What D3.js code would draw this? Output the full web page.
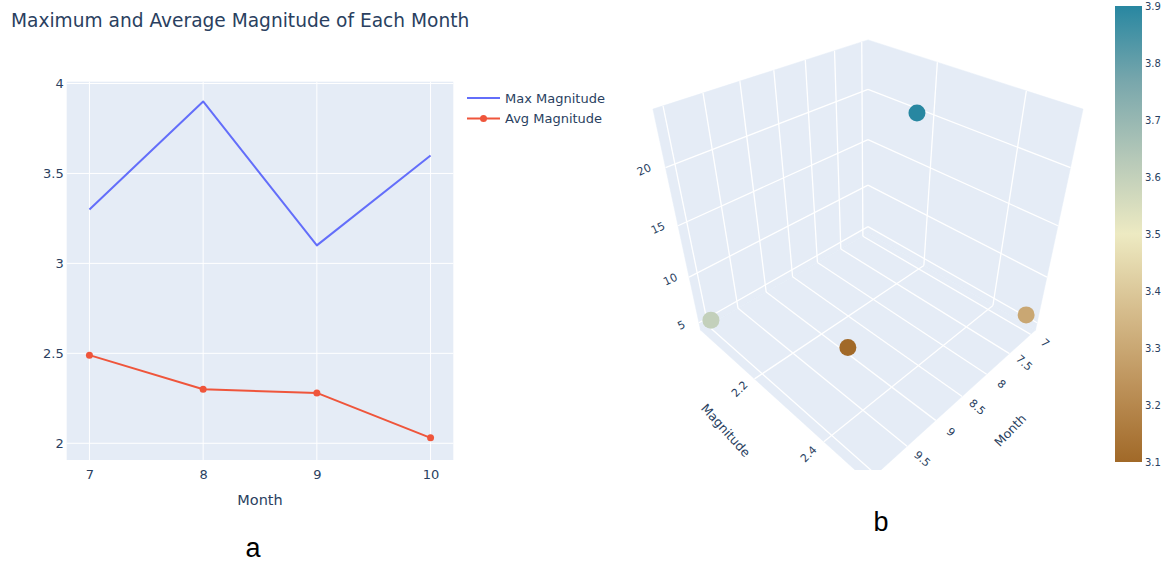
<!DOCTYPE html>
<html>
<head>
<meta charset="utf-8">
<script src="https://cdn.jsdelivr.net/npm/d3@7"></script>
<style>
  body { margin: 0; background: #fff; }
  svg { display: block; }
  .pl text { font-family: "DejaVu Sans", Verdana, sans-serif; fill: #2a3f5f; }
  .panel-tag { font-family: "Liberation Sans", Arial, sans-serif; fill: #000; }
</style>
</head>
<body>
<svg id="chart" width="1168" height="564"></svg>
<script>
// ---- data ----
const months = [7, 8, 9, 10];
const maxMagnitude = [3.3, 3.9, 3.1, 3.6];
const avgMagnitude = [2.49, 2.30, 2.28, 2.03];
const depthValues = [5.9, 23.7, 4.9, 5.3];

const lineXTicks = [7, 8, 9, 10];
const lineYTicks = [2, 2.5, 3, 3.5, 4];
const monthTicks3d = [7, 7.5, 8, 8.5, 9, 9.5, 10];
const magTicks3d = [2.2, 2.4];
const depthTicks3d = [5, 10, 15, 20];
const colorTicks = [3.1, 3.2, 3.3, 3.4, 3.5, 3.6, 3.7, 3.8, 3.9];
const earthColors = ["#a16928", "#bd925a", "#d6bd8d", "#edeac2", "#b5c8b8", "#79a7ac", "#2887a1"];

const svg = d3.select("#chart");
const root = svg.append("g").attr("class", "pl");

// ================= left panel: 2D line chart =================
const plot = { left: 66.7, right: 453.3, top: 81.7, bottom: 460 };
const x = d3.scaleLinear().domain([6.8, 10.2]).range([plot.left, plot.right]);
const y = d3.scaleLinear().domain([1.907, 4.01]).range([plot.bottom, plot.top]);

root.append("text")
  .attr("x", 11).attr("y", 27)
  .style("font-size", "18.6px")
  .text("Maximum and Average Magnitude of Each Month");

root.append("rect")
  .attr("x", plot.left).attr("y", plot.top)
  .attr("width", plot.right - plot.left).attr("height", plot.bottom - plot.top)
  .attr("fill", "#e5ecf6");

const grid = root.append("g").attr("stroke", "#fff").attr("stroke-width", 1);
grid.selectAll("line.gx").data(lineXTicks).join("line")
  .attr("x1", d => x(d)).attr("x2", d => x(d))
  .attr("y1", plot.top).attr("y2", plot.bottom);
grid.selectAll("line.gy").data(lineYTicks).join("line")
  .attr("y1", d => y(d)).attr("y2", d => y(d))
  .attr("x1", plot.left).attr("x2", plot.right);

const xAxis = d3.axisBottom(x).tickValues(lineXTicks).tickSize(0).tickPadding(10).tickFormat(d3.format("d"));
const yAxis = d3.axisLeft(y).tickValues(lineYTicks).tickSize(0).tickPadding(3).tickFormat(d => String(d));
const gx = root.append("g").attr("transform", `translate(0,${plot.bottom})`).call(xAxis);
const gy = root.append("g").attr("transform", `translate(${plot.left},0)`).call(yAxis);
[gx, gy].forEach(g => {
  g.select(".domain").remove();
  g.selectAll("text").style("font-size", "13px").attr("fill", "#2a3f5f").style("font-family", "DejaVu Sans");
});

root.append("text")
  .attr("x", (plot.left + plot.right) / 2).attr("y", 505)
  .attr("text-anchor", "middle")
  .style("font-size", "14.5px")
  .text("Month");

const seriesLine = d3.line().x((d, i) => x(months[i])).y(d => y(d));
root.append("path").datum(maxMagnitude)
  .attr("d", seriesLine).attr("fill", "none")
  .attr("stroke", "#636efa").attr("stroke-width", 2).attr("stroke-linejoin", "round");
root.append("path").datum(avgMagnitude)
  .attr("d", seriesLine).attr("fill", "none")
  .attr("stroke", "#ef553b").attr("stroke-width", 2).attr("stroke-linejoin", "round");
root.selectAll("circle.avg").data(avgMagnitude).join("circle")
  .attr("cx", (d, i) => x(months[i])).attr("cy", d => y(d)).attr("r", 3.5)
  .attr("fill", "#ef553b");

// legend
const legend = root.append("g").attr("transform", "translate(467,98)");
const legendItems = [
  { name: "Max Magnitude", color: "#636efa", marker: false },
  { name: "Avg Magnitude", color: "#ef553b", marker: true }
];
legendItems.forEach((it, i) => {
  const g = legend.append("g").attr("transform", `translate(0,${i * 20.5})`);
  g.append("line").attr("x1", 0).attr("x2", 33).attr("stroke", it.color).attr("stroke-width", 2);
  if (it.marker) g.append("circle").attr("cx", 16.5).attr("r", 3.5).attr("fill", it.color);
  g.append("text").attr("x", 38).attr("dy", "0.35em").style("font-size", "13px").text(it.name);
});

// ================= right panel: 3D scatter =================
function padded(vals) {
  const [lo, hi] = d3.extent(vals);
  const p = (hi - lo) * 0.04;
  return [lo - p, hi + p];
}
const sx3 = d3.scaleLinear().domain(padded(months)).range([-1, 1]);
const sy3 = d3.scaleLinear().domain(padded(avgMagnitude)).range([-1, 1]);
const sz3 = d3.scaleLinear().domain(padded(depthValues)).range([-1, 1]);

// perspective camera sitting on the (1,1,1) diagonal, looking at the cube centre
const cam = { eye: 2.68, focal: 618.2, cx: 868, cy: 233.3 };
function project([X, Y, Z]) {
  const vx = X - cam.eye, vy = Y - cam.eye, vz = Z - cam.eye;
  const xc = (-vx + vy) / Math.SQRT2;
  const yc = (-vx - vy + 2 * vz) / Math.sqrt(6);
  const zc = -(vx + vy + vz) / Math.sqrt(3);
  return [cam.cx + cam.focal * xc / zc, cam.cy - cam.focal * yc / zc];
}
const depthOf = ([X, Y, Z]) => -(X + Y + Z);

const defs = svg.append("defs");
defs.append("clipPath").attr("id", "sceneClip")
  .append("rect").attr("x", 636).attr("y", 0).attr("width", 476).attr("height", 470);

const scene = root.append("g").attr("clip-path", "url(#sceneClip)");

// back walls: month-min wall, magnitude-min wall, floor
const walls = [
  [[-1, -1, -1], [-1, 1, -1], [-1, 1, 1], [-1, -1, 1]],
  [[-1, -1, -1], [1, -1, -1], [1, -1, 1], [-1, -1, 1]],
  [[-1, -1, -1], [1, -1, -1], [1, 1, -1], [-1, 1, -1]]
];
scene.selectAll("polygon.wall").data(walls).join("polygon")
  .attr("points", d => d.map(p => project(p).join(",")).join(" "))
  .attr("fill", "#e5ecf6").attr("stroke", "#e5ecf6").attr("stroke-width", 0.5);

const segs = [];
monthTicks3d.forEach(m => {
  const X = sx3(m);
  if (X < -1 || X > 1) return;
  segs.push([[X, -1, -1], [X, 1, -1]]);   // floor
  segs.push([[X, -1, -1], [X, -1, 1]]);   // magnitude-min wall
});
magTicks3d.forEach(v => {
  const Y = sy3(v);
  segs.push([[-1, Y, -1], [1, Y, -1]]);   // floor
  segs.push([[-1, Y, -1], [-1, Y, 1]]);   // month-min wall
});
depthTicks3d.forEach(v => {
  const Z = sz3(v);
  segs.push([[-1, -1, Z], [1, -1, Z]]);
  segs.push([[-1, -1, Z], [-1, 1, Z]]);
});
scene.selectAll("line.g3").data(segs).join("line")
  .attr("x1", d => project(d[0])[0]).attr("y1", d => project(d[0])[1])
  .attr("x2", d => project(d[1])[0]).attr("y2", d => project(d[1])[1])
  .attr("stroke", "#fff").attr("stroke-width", 1.3);

// tick labels
function label3d(g, p, txt, rot, size) {
  const [px, py] = project(p);
  g.append("text")
    .attr("transform", `translate(${px},${py}) rotate(${rot})`)
    .attr("text-anchor", "middle").attr("dy", "0.35em")
    .style("font-size", size + "px")
    .text(txt);
}
monthTicks3d.forEach(m => label3d(scene, [sx3(m), 1.14, -1], String(m), 42, 11));
magTicks3d.forEach(v => label3d(scene, [1.14, sy3(v), -1], String(v), -45, 11));
depthTicks3d.forEach(v => label3d(scene, [1.12, -1.08, sz3(v)], String(v), -25, 11));

label3d(scene, [sx3(8.5), 1.43, -1], "Month", -46, 12.5);
label3d(scene, [1.43, sy3(2.26), -1], "Magnitude", 48, 12.5);
label3d(scene, [1.45, -1.3, 0], "Depth", -78, 12.5);

// markers, far ones first
const colour = d3.scaleLinear()
  .domain(d3.range(earthColors.length).map(i => d3.min(maxMagnitude) + i * (d3.max(maxMagnitude) - d3.min(maxMagnitude)) / (earthColors.length - 1)))
  .range(earthColors);
const pts = months.map((m, i) => ({ p: [sx3(m), sy3(avgMagnitude[i]), sz3(depthValues[i])], c: maxMagnitude[i] }))
  .sort((a, b) => depthOf(a.p) - depthOf(b.p));
scene.selectAll("circle.pt").data(pts).join("circle")
  .attr("cx", d => project(d.p)[0]).attr("cy", d => project(d.p)[1])
  .attr("r", 8.5).attr("fill", d => colour(d.c));

// colour bar
const cb = { x: 1115, w: 27 };
const cbScale = d3.scaleLinear().domain(d3.extent(maxMagnitude)).range([462, 6]);
const grad = defs.append("linearGradient").attr("id", "earth")
  .attr("x1", 0).attr("x2", 0).attr("y1", 1).attr("y2", 0);
earthColors.forEach((c, i) => grad.append("stop").attr("offset", i / (earthColors.length - 1)).attr("stop-color", c));
root.append("rect")
  .attr("x", cb.x).attr("y", cbScale.range()[1])
  .attr("width", cb.w).attr("height", cbScale.range()[0] - cbScale.range()[1])
  .attr("fill", "url(#earth)");
root.selectAll("text.cbt").data(colorTicks).join("text")
  .attr("x", cb.x + cb.w + 3).attr("y", d => cbScale(d)).attr("dy", "0.35em")
  .style("font-size", "10px")
  .text(d => d.toFixed(1));

// panel tags
svg.append("text").attr("class", "panel-tag").attr("x", 253).attr("y", 557)
  .attr("text-anchor", "middle").style("font-size", "27px").text("a");
svg.append("text").attr("class", "panel-tag").attr("x", 881).attr("y", 531)
  .attr("text-anchor", "middle").style("font-size", "27px").text("b");
</script>
</body>
</html>
